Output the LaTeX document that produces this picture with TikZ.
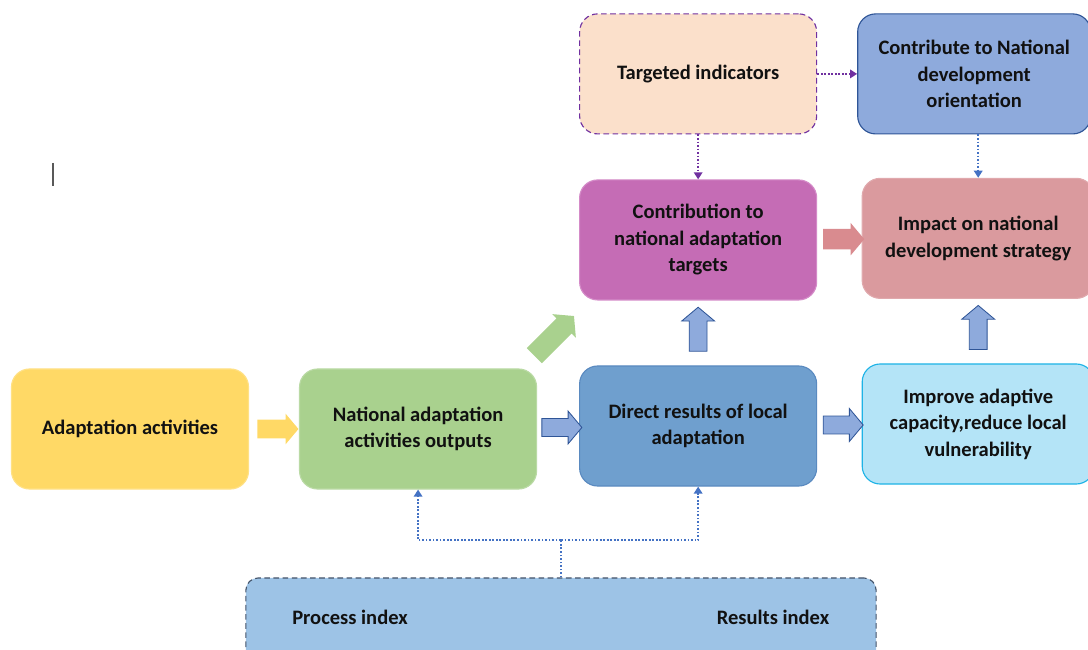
\documentclass[tikz,border=0pt]{standalone}
\usepackage{fontspec}
\setmainfont{Carlito}
\usetikzlibrary{shapes.arrows,arrows.meta,calc}

\definecolor{actyellow}{HTML}{FFD966}
\definecolor{natgreen}{HTML}{A9D18E}
\definecolor{dirblue}{HTML}{6F9FCE}
\definecolor{dirline}{HTML}{5A8AC0}
\definecolor{impcyan}{HTML}{B4E4F7}
\definecolor{impline}{HTML}{1EB3E6}
\definecolor{conmagenta}{HTML}{C56CB5}
\definecolor{conline}{HTML}{D48BC8}
\definecolor{strpink}{HTML}{DA9A9E}
\definecolor{indpeach}{HTML}{FBE0CB}
\definecolor{indpurple}{HTML}{7030A0}
\definecolor{oriblue}{HTML}{8EAADC}
\definecolor{oriline}{HTML}{2F5597}
\definecolor{idxblue}{HTML}{9DC3E6}
\definecolor{idxline}{HTML}{44546A}
\definecolor{dotblue}{HTML}{4472C4}
\definecolor{arrpink}{HTML}{D98B8F}
\definecolor{textblack}{HTML}{111111}

\newcommand\boxfont{\fontsize{14.6}{18.8}\selectfont\bfseries}

\begin{document}
\begin{tikzpicture}[x=0.025cm, y=-0.025cm, node distance=7cm,
  box/.style={rectangle, rounded corners=0.45cm, minimum width=5.925cm,
    minimum height=3cm, align=center, font=\boxfont, text=textblack, line width=0.8pt},
  blockarr/.style={single arrow, inner xsep=0pt, inner ysep=0.2125cm,
    single arrow head extend=0.1875cm, single arrow tip angle=100, minimum height=1cm},
  dotpurple/.style={color=indpurple, line width=1.5pt, dash pattern=on 1.3pt off 1.2pt,
    -{Triangle[length=5pt,width=6pt]}},
  dotblue/.style={color=dotblue, line width=1.5pt, dash pattern=on 1.3pt off 1.2pt,
    -{Triangle[length=5pt,width=6pt]}}]
\useasboundingbox (0,0) rectangle (1088,650);

\node[box, fill=actyellow, draw=actyellow!80!white] (act) at (130,429) {Adaptation activities};
\node[box, fill=natgreen, draw=natgreen!80!white] (nat) [right of=act, xshift=0.2cm] {National adaptation\\activities outputs};
\node[box, fill=dirblue, draw=dirline] (dir) [right of=nat, yshift=0.075cm] {Direct results of local\\adaptation};
\node[box, fill=impcyan, draw=impline, minimum width=5.8cm] (imp) [right of=dir, yshift=0.05cm] {Improve adaptive\\capacity,reduce local\\vulnerability};
\node[box, fill=conmagenta, draw=conline] (con) [node distance=4.65cm, above of=dir] {Contribution to\\national adaptation\\targets};
\node[box, fill=indpeach, draw=indpurple, dash pattern=on 4pt off 2.5pt] (ind) [node distance=4.15cm, above of=con] {Targeted indicators};
\node[box, fill=strpink, draw=strpink!85!white, minimum width=5.8cm] (str) [right of=con, yshift=0.04cm] {Impact on national\\development strategy};
\node[box, fill=oriblue, draw=oriline, minimum width=5.825cm] (ori) [right of=ind, xshift=-0.1cm] {Contribute to National\\development\\orientation};

% indicator box at the bottom
\node[box, fill=idxblue, draw=idxline, dash pattern=on 4pt off 2.5pt, rounded corners=0.3cm,
  minimum width=15.75cm, minimum height=2.25cm] (idx) at (561,623) {};
\node[font=\boxfont, text=textblack] (proc) at (350,617) {Process index};
\node[font=\boxfont, text=textblack] (res) at (773,617) {Results index};

% block arrows
\node[blockarr, fill=actyellow, inner ysep=0.225cm, single arrow head extend=0.15cm, minimum height=1.025cm] (a1) at ($(act.east)!0.5!(nat.west)$) {};
\node[blockarr, fill=oriblue, draw=oriline, line width=0.6pt] (a2) at ($(nat.east)!0.5!(dir.west)$) {};
\node[blockarr, fill=oriblue, draw=oriline, line width=0.6pt] (a3) at ($(dir.east)!0.5!(imp.west)$) {};
\node[blockarr, fill=oriblue, draw=oriline, line width=0.6pt, rotate=90, minimum height=1.1cm] (a4) at ($(dir.north)!0.5!(con.south)$) {};
\node[blockarr, fill=oriblue, draw=oriline, line width=0.6pt, rotate=90, minimum height=1.1cm] (a5) at ($(imp.north)!0.5!(str.south)$) {};
\node[blockarr, fill=arrpink, inner ysep=0.25cm, single arrow head extend=0.15cm, minimum height=1.025cm] (a6) at ($(con.east)!0.5!(str.west)$) {};
\node[blockarr, fill=natgreen, rotate=45, minimum height=1.4cm, inner ysep=0.26cm, single arrow head extend=0.15cm] (a7) at (551,339) {};

% dotted links
\path[dotpurple] (ind) edge (ori)
                 (ind) edge (con);
\path[dotblue] (str.north |- ori.south) edge (str);
\coordinate (jn) at ($(idx.north)+(0,-37)$);
\draw[dotblue, -] (idx) -- (jn);
\draw[dotblue] (jn) -| (nat);
\draw[dotblue] (jn) -| (dir);

\draw[gray!70!black, line width=0.9pt] (53,163) -- (53,186);
\end{tikzpicture}
\end{document}
